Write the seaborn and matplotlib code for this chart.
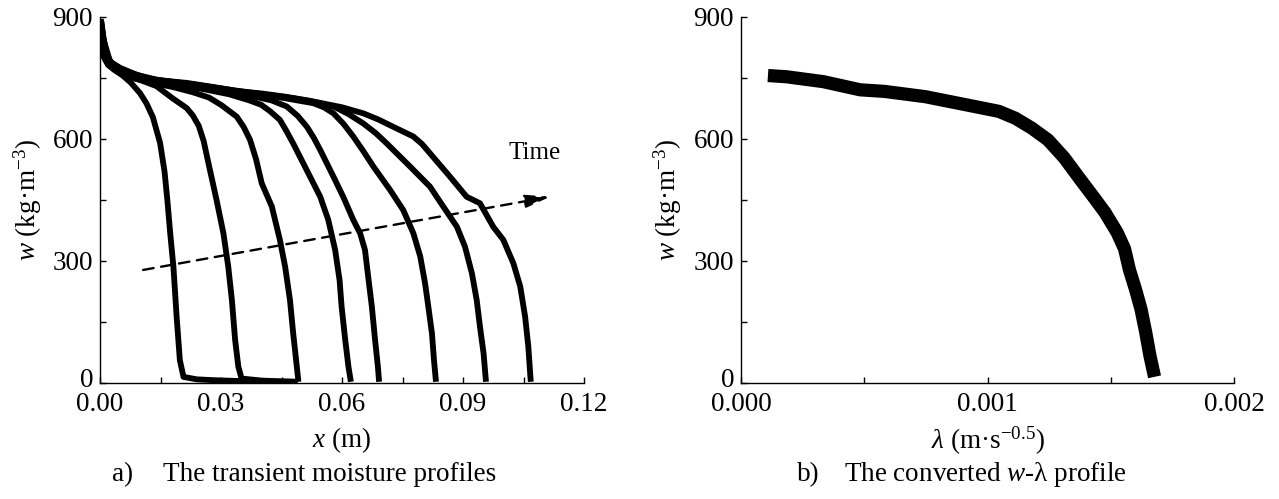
import matplotlib
matplotlib.use("Agg")
import matplotlib.pyplot as plt
import matplotlib.transforms as mtransforms
import numpy as np
import pandas as pd
import seaborn as sns
from matplotlib.ticker import MultipleLocator, FormatStrFormatter

# ---------------- data ----------------
# a) transient moisture profiles, x in m, w in kg/m3
X1 = [0.0003, 0.0006, 0.0010, 0.0020, 0.0035, 0.0055, 0.0075, 0.0099, 0.0115, 0.0131, 0.0149,
      0.0160, 0.0167, 0.0174, 0.0182, 0.0190, 0.0198, 0.0207, 0.0240, 0.0280, 0.0340, 0.0400,
      0.0480]
W1 = [870, 830, 800, 782, 770, 757, 740, 713, 688, 654, 590,
      520, 450, 369, 286, 163, 56, 15, 9, 7, 5, 4,
      3]

X2 = [0.0003, 0.0008, 0.0015, 0.0030, 0.0060, 0.0100, 0.0140, 0.0180, 0.0215, 0.0230, 0.0245,
      0.0257, 0.0269, 0.0289, 0.0306, 0.0318, 0.0327, 0.0335, 0.0343, 0.0351, 0.0400, 0.0450,
      0.0490]
W2 = [885, 840, 800, 780, 758, 745, 730, 700, 676, 658, 632,
      595, 540, 450, 368, 286, 204, 106, 40, 11, 6, 4,
      3]

X3 = [0.0003, 0.0010, 0.0020, 0.0040, 0.0080, 0.0130, 0.0180, 0.0230, 0.0270, 0.0300, 0.0339,
      0.0356, 0.0372, 0.0387, 0.0401, 0.0426, 0.0446, 0.0459, 0.0471, 0.0479, 0.0488, 0.0492]
W3 = [860, 815, 785, 770, 750, 738, 728, 715, 702, 684, 655,
      630, 598, 550, 491, 434, 352, 286, 204, 122, 40, 3]

X4 = [0.0005, 0.0012, 0.0025, 0.0050, 0.0090, 0.0140, 0.0200, 0.0260, 0.0320, 0.0370, 0.0400,
      0.0422, 0.0446, 0.0462, 0.0479, 0.0500, 0.0521, 0.0546, 0.0566, 0.0583, 0.0594, 0.0599,
      0.0608, 0.0616, 0.0622]
W4 = [850, 805, 780, 765, 750, 742, 732, 722, 710, 695, 684,
      668, 647, 620, 589, 548, 507, 458, 401, 327, 253, 188,
      106, 40, 3]

X5 = [0.0004, 0.0010, 0.0022, 0.0045, 0.0085, 0.0135, 0.0195, 0.0255, 0.0315, 0.0375, 0.0425,
      0.0463, 0.0490, 0.0513, 0.0530, 0.0546, 0.0579, 0.0603, 0.0628, 0.0645, 0.0657, 0.0665,
      0.0674, 0.0682, 0.0689, 0.0692]
W5 = [875, 830, 790, 772, 756, 745, 735, 726, 716, 706, 695,
      680, 657, 630, 603, 573, 507, 458, 401, 368, 327, 261,
      188, 106, 40, 3]

X6 = [0.0003, 0.0010, 0.0025, 0.0050, 0.0090, 0.0140, 0.0200, 0.0260, 0.0330, 0.0400, 0.0460,
      0.0529, 0.0555, 0.0579, 0.0604, 0.0628, 0.0653, 0.0678, 0.0719, 0.0752, 0.0777, 0.0794,
      0.0806, 0.0814, 0.0823, 0.0828, 0.0833]
W6 = [890, 840, 790, 775, 758, 746, 738, 730, 720, 710, 700,
      688, 678, 663, 637, 606, 570, 532, 475, 425, 368, 311,
      245, 188, 122, 57, 3]

X7 = [0.0005, 0.0012, 0.0030, 0.0060, 0.0100, 0.0150, 0.0215, 0.0280, 0.0340, 0.0400, 0.0460,
      0.0520, 0.0579, 0.0615, 0.0653, 0.0683, 0.0711, 0.0769, 0.0818, 0.0851, 0.0885, 0.0905,
      0.0922, 0.0934, 0.0942, 0.0951, 0.0957]
W7 = [865, 820, 782, 765, 752, 744, 738, 728, 718, 712, 704,
      694, 680, 662, 638, 615, 589, 532, 483, 434, 384, 335,
      270, 204, 139, 73, 3]

X8 = [0.0002, 0.0008, 0.0020, 0.0045, 0.0085, 0.0125, 0.0180, 0.0240, 0.0300, 0.0360, 0.0420,
      0.0480, 0.0540, 0.0600, 0.0653, 0.0690, 0.0727, 0.0777, 0.0798, 0.0818, 0.0868, 0.0909,
      0.0942, 0.0975, 0.1000, 0.1025, 0.1042, 0.1054, 0.1062, 0.1068]
W8 = [895, 850, 795, 775, 760, 747, 740, 733, 722, 714, 708,
      700, 690, 678, 663, 648, 630, 606, 588, 565, 507, 458,
      442, 384, 352, 294, 237, 163, 89, 3]

PROFILE_X = [X1, X2, X3, X4, X5, X6, X7, X8]
PROFILE_W = [W1, W2, W3, W4, W5, W6, W7, W8]

# b) converted w-lambda profile
LAMBDA = [0.000136, 0.000185, 0.000334, 0.000483, 0.000583, 0.000748, 0.000914, 0.001046,
          0.001113, 0.001179, 0.001245, 0.001311, 0.001377, 0.001427, 0.001477, 0.001526,
          0.001556, 0.001576, 0.001601, 0.001623, 0.001642, 0.001659, 0.001672]
W_LAMBDA = [755, 753, 741, 721, 717, 704, 684, 668,
            651, 627, 598, 554, 500, 460, 419, 370,
            330, 278, 229, 181, 124, 67, 31]

# annotation (Time arrow)
ARROW_START = (0.0107, 278)
ARROW_END = (0.1116, 458)
TIME_POS = (0.1078, 566)

# ---------------- style ----------------
sns.set_theme(style="ticks")
plt.rcParams["font.family"] = ["Liberation Serif", "DejaVu Serif"]
plt.rcParams["mathtext.fontset"] = "custom"
plt.rcParams["mathtext.rm"] = "Liberation Serif"
plt.rcParams["mathtext.it"] = "Liberation Serif:italic"
plt.rcParams["mathtext.bf"] = "Liberation Serif:bold"

FS = 19.5
W_PX, H_PX = 1279, 499
fig = plt.figure(figsize=(W_PX / 100, H_PX / 100), dpi=100, facecolor="white")


def px_axes(l, r, t, b):
    return [l / W_PX, (H_PX - b) / H_PX, (r - l) / W_PX, (b - t) / H_PX]


ax1 = fig.add_axes(px_axes(100, 584, 17, 383))
ax2 = fig.add_axes(px_axes(741, 1234, 17, 383))

rows = []
for i, (xs, ws) in enumerate(zip(PROFILE_X, PROFILE_W)):
    for xv, wv in zip(xs, ws):
        rows.append({"curve": f"c{i}", "x": xv, "w": wv})
df = pd.DataFrame(rows)

sns.lineplot(data=df, x="x", y="w", hue="curve", palette=["black"] * len(PROFILE_X),
             legend=False, sort=False, estimator=None, lw=4.2, ax=ax1,
             solid_capstyle="butt", solid_joinstyle="round")

dfb = pd.DataFrame({"lam": LAMBDA, "w": W_LAMBDA})
sns.lineplot(data=dfb, x="lam", y="w", color="black", sort=False, estimator=None,
             lw=9.5, ax=ax2, solid_capstyle="projecting", solid_joinstyle="round")


def style(ax, xmax, xmaj, xmin, fmt):
    ax.set_facecolor("white")
    ax.grid(False)
    ax.set_xlim(0, xmax)
    ax.set_ylim(0, 900)
    ax.xaxis.set_major_locator(MultipleLocator(xmaj))
    ax.xaxis.set_minor_locator(MultipleLocator(xmin))
    ax.yaxis.set_major_locator(MultipleLocator(300))
    ax.yaxis.set_minor_locator(MultipleLocator(150))
    ax.xaxis.set_major_formatter(FormatStrFormatter(fmt))
    ax.yaxis.set_major_formatter(FormatStrFormatter("%d"))
    ax.tick_params(which="both", direction="in", length=4.3, width=1.0,
                   color="black", labelsize=FS, labelcolor="black")
    ax.tick_params(axis="x", which="both", pad=6.5)
    ax.tick_params(axis="y", which="both", pad=5)
    for s in ["top", "right"]:
        ax.spines[s].set_visible(False)
    for s in ["left", "bottom"]:
        ax.spines[s].set_linewidth(1.0)
        ax.spines[s].set_color("black")
    ax.set_ylabel(r"$w$ (kg·m$^{-3}$)", fontsize=FS, color="black")
    ax.yaxis.set_label_coords(-0.116, 0.5)


style(ax1, 0.12, 0.03, 0.015, "%.2f")
style(ax2, 0.002, 0.001, 0.0005, "%.3f")

ax1.set_xlabel(r"$x$ (m)", fontsize=FS, color="black")
ax1.xaxis.set_label_coords(0.5, -0.115)
ax2.set_xlabel(r"$\lambda$ (m·s$^{-0.5}$)", fontsize=FS, color="black")
ax2.xaxis.set_label_coords(0.5, -0.115)

# Time arrow
ax1.annotate("", xy=ARROW_END, xytext=ARROW_START,
             arrowprops=dict(arrowstyle="-|>,head_length=0.5,head_width=0.13",
                             mutation_scale=30, color="black", lw=1.7,
                             linestyle=(0, (4.5, 3.2)), shrinkA=0, shrinkB=0))
ax1.text(TIME_POS[0], TIME_POS[1], "Time", fontsize=18, ha="center", va="center",
         color="black")

# captions
cy = (H_PX - 481) / H_PX
fig.text(112 / W_PX, cy, "a)", fontsize=FS, ha="left", va="baseline", color="black")
fig.text(163 / W_PX, cy, "The transient moisture profiles", fontsize=FS, ha="left",
         va="baseline", color="black")
fig.text(797 / W_PX, cy, "b)", fontsize=FS, ha="left", va="baseline", color="black")
fig.text(844 / W_PX, cy, r"The converted $w$-λ profile", fontsize=FS, ha="left",
         va="baseline", color="black")

# nudge the y-axis "0" labels slightly up so they do not collide with the x labels
fig.canvas.draw()
for ax in (ax1, ax2):
    for tick in ax.yaxis.get_major_ticks():
        if abs(tick.get_loc()) < 1e-9:
            lab = tick.label1
            lab.set_transform(lab.get_transform() +
                              mtransforms.ScaledTranslation(0, 4 / 72, fig.dpi_scale_trans))

fig.savefig("out.png", dpi=100, facecolor="white")
